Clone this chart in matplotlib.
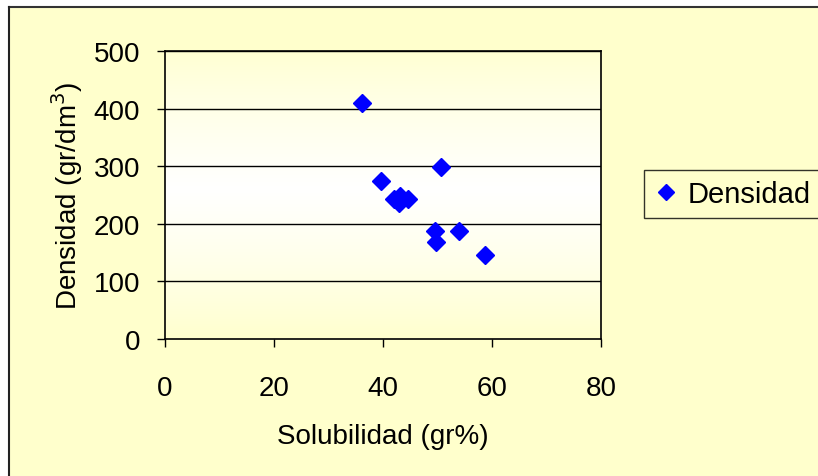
import matplotlib.pyplot as plt
import numpy as np
import matplotlib.patches as patches

# data
solubilidad = [36.1, 50.6, 39.6, 42.0, 43.2, 44.5, 43.0, 49.5, 49.8, 54.0, 58.7]
densidad = [409, 298, 274, 243, 248, 243, 236, 188, 168, 188, 146]
x_ticks = [0, 20, 40, 60, 80]
y_ticks = [0, 100, 200, 300, 400, 500]

plt.rcParams['font.family'] = ['Liberation Sans', 'DejaVu Sans']

W, H = 818, 477
fig = plt.figure(figsize=(W / 100, H / 100), dpi=100, facecolor='white')

# chart area background with top/left border
fig.patches.append(patches.Rectangle((9 / W, 0), 1, 1 - 8 / H, transform=fig.transFigure,
                                     facecolor='#FFFFCC', edgecolor='none', zorder=-5))
fig.add_artist(plt.Line2D([9 / W, 1], [1 - 8 / H, 1 - 8 / H], color='#333333', lw=1.5, zorder=-4))
fig.add_artist(plt.Line2D([9 / W, 9 / W], [0, 1 - 8 / H], color='#222222', lw=1.5, zorder=-4))

ax = fig.add_axes([165 / W, 1 - 340 / H, (601 - 165) / W, (340 - 52) / H])
ax.set_facecolor('#FFFFCC')

# pale yellow -> white -> pale yellow gradient for the plot area
t = np.linspace(0, 1, 256)
w = 1 - np.abs(t - 0.52) / 0.52
w = np.clip(w, 0, 1) ** 0.8
grad = np.zeros((256, 1, 3))
grad[:, 0, 0] = 1
grad[:, 0, 1] = 1
grad[:, 0, 2] = 0.80 + 0.20 * w
ax.imshow(grad, extent=[0, 80, 0, 500], aspect='auto', origin='lower', zorder=0)

ax.set_xlim(0, 80)
ax.set_ylim(0, 500)
ax.set_xticks(x_ticks)
ax.set_yticks(y_ticks)
ax.tick_params(labelsize=20, length=6, width=1, color='black')
ax.tick_params(axis='x', pad=20)
ax.tick_params(axis='y', pad=12)
for yv in y_ticks[1:]:
    ax.axhline(yv, color='black', lw=1, zorder=1)
for s in ax.spines.values():
    s.set_color('black')
    s.set_linewidth(1.2)

ax.plot(solubilidad, densidad, ls='none', marker='D', ms=9.5, color='#0000FF',
        mec='#0000FF', zorder=3, label='Densidad')

ax.set_xlabel('Solubilidad (gr%)', fontsize=20, labelpad=16)
ax.set_ylabel('Densidad (gr/dm$^3$)', fontsize=20, labelpad=6)

leg = fig.legend(loc='center left', bbox_to_anchor=(644 / W, 1 - 195 / H), fontsize=21,
                 frameon=True, fancybox=False, borderpad=0.35, handlelength=0.8,
                 handletextpad=0.35, markerscale=0.9, borderaxespad=0)
leg.get_frame().set_edgecolor('black')
leg.get_frame().set_facecolor('#FFFFCC')
leg.get_frame().set_linewidth(1)

fig.savefig('out.png', dpi=100)
